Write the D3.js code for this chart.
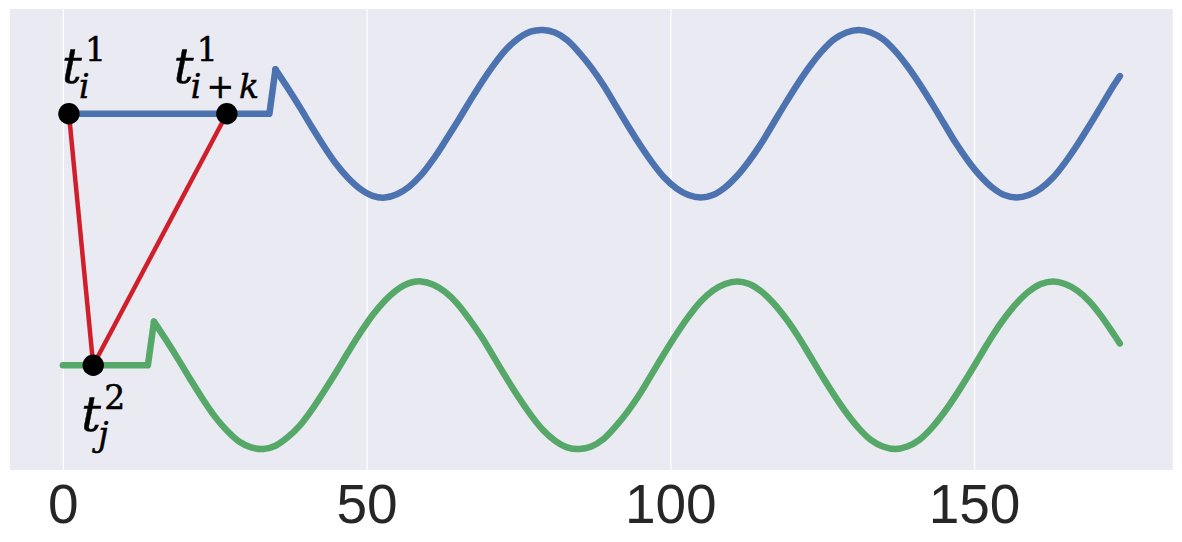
<!DOCTYPE html>
<html>
<head>
<meta charset="utf-8">
<script src="https://cdn.jsdelivr.net/npm/d3@7"></script>
<style>
  body { margin: 0; background: #fff; }
  .tick-label { font: 55px "Liberation Sans", Arial, sans-serif; fill: #262626; text-anchor: middle; }
  .math { font-family: "DejaVu Serif", serif; fill: #000; stroke: #000; stroke-width: 0.5; }
</style>
</head>
<body>
<div id="chart"></div>
<script>
// data ======================================================================
const xTicks = [0, 50, 100, 150];

const blueT = [0, 34, 35, 37, 39, 41, 43, 45, 47, 49, 51, 53, 55, 57, 59, 61, 63, 65, 67, 69,
  71, 73, 75, 77, 79, 81, 83, 85, 87, 89, 91, 93, 95, 97, 99, 101, 103, 105, 107, 109,
  111, 113, 115, 117, 119, 121, 123, 125, 127, 129, 131, 133, 135, 137, 139, 141, 143, 145, 147, 149,
  151, 153, 155, 157, 159, 161, 163, 165, 167, 169, 171, 173, 174];
const blueV = [3, 3, 3.53, 3.31, 3.08, 2.84, 2.61, 2.40, 2.23, 2.10, 2.02, 2.00, 2.04, 2.13, 2.27, 2.46, 2.68, 2.91, 3.15, 3.38,
  3.59, 3.77, 3.90, 3.98, 4.00, 3.97, 3.88, 3.73, 3.55, 3.34, 3.10, 2.86, 2.63, 2.42, 2.24, 2.11, 2.03, 2.00, 2.03, 2.12,
  2.26, 2.44, 2.65, 2.89, 3.13, 3.36, 3.57, 3.75, 3.89, 3.97, 4.00, 3.97, 3.89, 3.75, 3.57, 3.36, 3.13, 2.89, 2.65, 2.44,
  2.26, 2.12, 2.03, 2.00, 2.03, 2.11, 2.24, 2.42, 2.63, 2.86, 3.10, 3.34, 3.45];

const greenT = [0, 14, 15, 17, 19, 21, 23, 25, 27, 29, 31, 33, 35, 37, 39, 41, 43, 45, 47, 49,
  51, 53, 55, 57, 59, 61, 63, 65, 67, 69, 71, 73, 75, 77, 79, 81, 83, 85, 87, 89,
  91, 93, 95, 97, 99, 101, 103, 105, 107, 109, 111, 113, 115, 117, 119, 121, 123, 125, 127, 129,
  131, 133, 135, 137, 139, 141, 143, 145, 147, 149, 151, 153, 155, 157, 159, 161, 163, 165, 167, 169,
  171, 173, 174];
const greenV = [0, 0, 0.52, 0.30, 0.07, -0.17, -0.40, -0.61, -0.78, -0.91, -0.98, -1.00, -0.96, -0.86, -0.72, -0.53, -0.31, -0.08, 0.16, 0.39,
  0.60, 0.77, 0.90, 0.98, 1.00, 0.96, 0.87, 0.73, 0.54, 0.33, 0.09, -0.15, -0.38, -0.59, -0.77, -0.90, -0.98, -1.00, -0.97, -0.88,
  -0.73, -0.55, -0.34, -0.10, 0.14, 0.37, 0.58, 0.76, 0.89, 0.97, 1.00, 0.97, 0.88, 0.74, 0.56, 0.35, 0.11, -0.13, -0.36, -0.57,
  -0.75, -0.89, -0.97, -1.00, -0.97, -0.89, -0.75, -0.57, -0.36, -0.13, 0.11, 0.35, 0.56, 0.74, 0.88, 0.97, 1.00, 0.97, 0.89, 0.76,
  0.58, 0.37, 0.26];

// matched points (time index, value)
const matchT = [1, 27, 5];
const matchV = [3, 3, 0];
const matchLinks = [[0, 2], [1, 2]];

// chart ======================================================================
const width = 1182, height = 542;
const plot = { left: 10, right: 1172.7, top: 9, bottom: 470 };

const svg = d3.select("#chart")
  .append("svg")
  .attr("width", width)
  .attr("height", height);

const x = d3.scaleLinear().domain([-8.7, 182.7]).range([plot.left, plot.right]);
const y = d3.scaleLinear().domain([-1.25, 4.25]).range([plot.bottom, plot.top]);

svg.append("rect")
  .attr("x", plot.left)
  .attr("y", plot.top)
  .attr("width", plot.right - plot.left)
  .attr("height", plot.bottom - plot.top)
  .attr("fill", "#EAEAF2");

// vertical grid + tick labels
const xAxis = d3.axisBottom(x).tickValues(xTicks).tickSize(0).tickPadding(0);
const gx = svg.append("g")
  .attr("transform", "translate(0," + plot.bottom + ")")
  .call(xAxis);
gx.select(".domain").remove();
gx.selectAll(".tick text")
  .attr("class", "tick-label")
  .attr("y", 52.7)
  .attr("dy", null)
  .attr("font-size", null)
  .attr("font-family", null)
  .attr("fill", null);
gx.selectAll(".tick line")
  .attr("y1", plot.top - plot.bottom)
  .attr("y2", 0)
  .attr("stroke", "#fff")
  .attr("stroke-width", 1.2);

// series: flat part + jump drawn straight, the wave part smoothed
const straight = d3.line()
  .x(d => x(d[0]))
  .y(d => y(d[1]));
const smooth = d3.line()
  .x(d => x(d[0]))
  .y(d => y(d[1]))
  .curve(d3.curveCatmullRom.alpha(0.5));

function drawSeries(ts, vs, color) {
  const pts = d3.zip(ts, vs);
  [pts.slice(0, 3), pts.slice(2)].forEach((part, k) => {
    svg.append("path")
      .datum(part)
      .attr("d", k === 0 ? straight : smooth)
      .attr("fill", "none")
      .attr("stroke", color)
      .attr("stroke-width", 6.5)
      .attr("stroke-linecap", "round")
      .attr("stroke-linejoin", "round");
  });
}

drawSeries(blueT, blueV, "#4C72B0");
drawSeries(greenT, greenV, "#55A868");

// warping links
svg.selectAll(".link")
  .data(matchLinks)
  .enter()
  .append("line")
  .attr("class", "link")
  .attr("x1", d => x(matchT[d[0]]))
  .attr("y1", d => y(matchV[d[0]]))
  .attr("x2", d => x(matchT[d[1]]))
  .attr("y2", d => y(matchV[d[1]]))
  .attr("stroke", "#D01F2B")
  .attr("stroke-width", 4.5);

svg.selectAll(".dot")
  .data(matchT)
  .enter()
  .append("circle")
  .attr("class", "dot")
  .attr("cx", d => x(d))
  .attr("cy", (d, i) => y(matchV[i]))
  .attr("r", 10.7)
  .attr("fill", "#000");

// labels t_i^1, t_{i+k}^1, t_j^2  (one text element each, scripts as tspans)
const labels = [
  { sup: "1", sub: ["i"], dx: -7, dy: -31 },
  { sup: "1", sub: ["i", "+", "k"], dx: -53, dy: -31 },
  { sup: "2", sub: ["j"], dx: -12, dy: 66 }
];

labels.forEach((l, i) => {
  const x0 = x(matchT[i]) + l.dx;
  const y0 = y(matchV[i]) + l.dy;
  const t = svg.append("text")
    .attr("class", "math")
    .attr("x", x0)
    .attr("y", y0);

  t.append("tspan")
    .attr("font-size", 49)
    .attr("font-style", "italic")
    .text("t");

  t.append("tspan")
    .attr("x", x0 + 23)
    .attr("y", y0 - 22)
    .attr("font-size", 33)
    .text(l.sup);

  l.sub.forEach((s, k) => {
    const sp = t.append("tspan")
      .attr("font-size", 33)
      .attr("font-style", s === "+" ? "normal" : "italic")
      .text(s);
    if (k === 0) sp.attr("x", x0 + 17).attr("y", y0 + 15);
    else sp.attr("dx", 5);
  });
});
</script>
</body>
</html>
